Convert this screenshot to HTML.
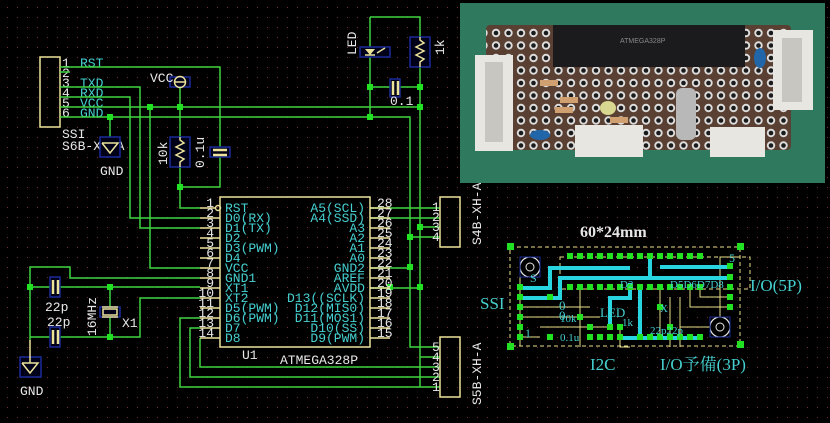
<!DOCTYPE html>
<html><head><meta charset="utf-8"><style>
html,body{margin:0;padding:0;background:#000;}
svg{display:block}
.m{font-family:"Liberation Mono","DejaVu Sans Mono",monospace;font-size:13px}
.c{fill:#46d0d0}.w{fill:#e8e8e8}
.g{stroke:#3fd43f;stroke-width:1.5;fill:none}
.y{stroke:#ece39a;stroke-width:1.5;fill:none}
.b{stroke:#1a2a9a;stroke-width:1.5;fill:#000018}
</style></head><body>
<svg width="830" height="423" viewBox="0 0 830 423" xmlns="http://www.w3.org/2000/svg">
<defs>
<pattern id="dots" x="0" y="0" width="10" height="10" patternUnits="userSpaceOnUse"><rect x="7" y="7" width="1" height="1" fill="#7a2a2a"/></pattern>
<pattern id="holes" x="490" y="27" width="12.5" height="12.5" patternUnits="userSpaceOnUse"><circle cx="6" cy="6" r="4.2" fill="#ddd"/><circle cx="6" cy="6" r="2.3" fill="#1a1a1a"/></pattern>
</defs>
<rect width="830" height="423" fill="#000"/>
<rect width="830" height="423" fill="url(#dots)"/>

<!-- SSI connector -->
<rect x="40" y="57" width="20" height="70" class="y"/>
<g class="m w" font-size="13"><text x="62" y="67">1</text><text x="62" y="77">2</text><text x="62" y="87">3</text><text x="62" y="97">4</text><text x="62" y="107">5</text><text x="62" y="117">6</text></g>
<g class="m c" font-size="13"><text x="80" y="67">RST</text><text x="80" y="87">TXD</text><text x="80" y="97">RXD</text><text x="80" y="107">VCC</text><text x="80" y="117">GND</text></g>
<text x="62" y="138" class="m w" font-size="13">SSI</text>
<text x="62" y="150" class="m w" font-size="13">S6B-XH-A</text>

<g class="g">
<polyline points="60,67 220,67 220,187 180,187"/>
<polyline points="60,72 70,72"/>
<polyline points="60,87 140,87 140,228 200,228"/>
<polyline points="60,97 130,97 130,218 200,218"/>
<polyline points="60,107 420,107 420,387"/>
<polyline points="60,117 410,117 410,347 440,347"/>
<polyline points="110,117 110,140"/>
<polyline points="150,107 150,268 200,268"/>
<polyline points="180,88 180,208 200,208"/>
<polyline points="370,17 420,17 420,107"/>
<polyline points="370,17 370,117"/>
<polyline points="370,87 420,87"/>
<polyline points="370,208 440,208"/><polyline points="370,218 440,218"/>
<polyline points="420,227 440,227"/><polyline points="410,237 440,237"/>
<polyline points="370,268 410,268"/><polyline points="370,288 420,288"/>
<polyline points="420,357 440,357"/>
<polyline points="200,278 70,278 70,267 30,267 30,340"/>
<polyline points="30,287 200,287"/>
<polyline points="30,337 140,337 140,298 200,298"/>
<polyline points="110,287 110,337"/>
<polyline points="200,318 180,318 180,387 440,387"/>
<polyline points="200,328 190,328 190,377 440,377"/>
<polyline points="200,338 200,367 440,367"/>
</g>
<g fill="#22e022">
<rect x="107" y="114" width="6" height="6"/><rect x="147" y="104" width="6" height="6"/><rect x="177" y="104" width="6" height="6"/>
<rect x="177" y="184" width="6" height="6"/><rect x="367" y="84" width="6" height="6"/><rect x="417" y="84" width="6" height="6"/>
<rect x="417" y="104" width="6" height="6"/><rect x="367" y="114" width="6" height="6"/>
<rect x="417" y="224" width="6" height="6"/><rect x="407" y="234" width="6" height="6"/><rect x="407" y="264" width="6" height="6"/>
<rect x="417" y="284" width="6" height="6"/><rect x="387" y="284" width="6" height="6"/>
<rect x="27" y="284" width="6" height="6"/><rect x="107" y="284" width="6" height="6"/><rect x="107" y="334" width="6" height="6"/>
</g>

<rect x="100" y="137" width="20" height="20" class="b"/>
<polyline points="102,143 118,143 110,153 102,143" class="y"/>
<text x="100" y="175" class="m w" font-size="13">GND</text>
<rect x="20" y="357" width="21" height="20" class="b"/>
<polyline points="22,363 38,363 30,373 22,363" class="y"/><line x1="30" y1="340" x2="30" y2="363" class="y"/>
<text x="20" y="205" class="m w" font-size="13" transform="translate(0,190)">GND</text>

<rect x="170" y="77" width="20" height="10" class="b"/>
<circle cx="180" cy="82" r="5.5" class="y"/><line x1="174" y1="82" x2="186" y2="82" class="y"/>
<text x="150" y="82" class="m w" font-size="13">VCC</text>
<rect x="170" y="137" width="20" height="30" class="b"/>
<polyline points="180,137 180,140 184,143 176,147 184,151 176,155 184,159 180,162 180,167" class="y"/>
<text transform="translate(167,165) rotate(-90)" class="m w" font-size="13">10k</text>
<rect x="210" y="147" width="20" height="10" class="b"/>
<line x1="213" y1="150" x2="227" y2="150" stroke="#ece39a" stroke-width="2.5"/><line x1="213" y1="155" x2="227" y2="155" stroke="#ece39a" stroke-width="2.5"/>
<text transform="translate(204,168) rotate(-90)" class="m w" font-size="13">0.1u</text>

<rect x="360" y="47" width="30" height="10" class="b"/>
<polygon points="365,49 375,49 370,55" fill="#ece39a"/><line x1="365" y1="55" x2="375" y2="55" class="y"/>
<line x1="377" y1="53" x2="385" y2="48" class="y"/>
<text transform="translate(356,55) rotate(-90)" class="m w" font-size="13">LED</text>
<rect x="410" y="37" width="20" height="30" class="b"/>
<polyline points="420,37 420,40 424,43 416,47 424,51 416,55 424,59 420,62 420,67" class="y"/>
<text transform="translate(444,55) rotate(-90)" class="m w" font-size="13">1k</text>
<rect x="390" y="79" width="10" height="18" class="b"/>
<line x1="393" y1="81" x2="393" y2="95" stroke="#ece39a" stroke-width="2.5"/><line x1="398" y1="81" x2="398" y2="95" stroke="#ece39a" stroke-width="2.5"/>
<text x="390" y="105" class="m w" font-size="13">0.1</text>

<rect x="50" y="277" width="10" height="20" class="b"/>
<line x1="53" y1="280" x2="53" y2="294" stroke="#ece39a" stroke-width="2.5"/><line x1="58" y1="280" x2="58" y2="294" stroke="#ece39a" stroke-width="2.5"/>
<rect x="50" y="327" width="10" height="20" class="b"/>
<line x1="53" y1="330" x2="53" y2="344" stroke="#ece39a" stroke-width="2.5"/><line x1="58" y1="330" x2="58" y2="344" stroke="#ece39a" stroke-width="2.5"/>
<text x="45" y="311" class="m w" font-size="13">22p</text>
<text x="47" y="326" class="m w" font-size="13">22p</text>
<rect x="100" y="307" width="20" height="10" class="b"/>
<rect x="103" y="309" width="14" height="6" class="y"/>
<line x1="102" y1="307" x2="118" y2="307" class="y"/><line x1="102" y1="317" x2="118" y2="317" class="y"/>
<text transform="translate(96,336) rotate(-90)" class="m w" font-size="13">16MHz</text>
<text x="122" y="327" class="m w" font-size="13">X1</text>

<rect x="220" y="197" width="150" height="150" class="y"/>
<g class="y">
<line x1="200" y1="208" x2="216" y2="208"/><circle cx="218" cy="208" r="2.5"/>
<line x1="200" y1="218" x2="220" y2="218"/><line x1="200" y1="228" x2="220" y2="228"/><line x1="200" y1="238" x2="220" y2="238"/>
<line x1="200" y1="248" x2="220" y2="248"/><line x1="200" y1="258" x2="220" y2="258"/><line x1="200" y1="268" x2="220" y2="268"/>
<line x1="200" y1="278" x2="220" y2="278"/><line x1="200" y1="288" x2="220" y2="288"/><line x1="200" y1="298" x2="220" y2="298"/>
<line x1="200" y1="308" x2="220" y2="308"/><line x1="200" y1="318" x2="220" y2="318"/><line x1="200" y1="328" x2="220" y2="328"/>
<line x1="200" y1="338" x2="220" y2="338"/>
<line x1="370" y1="208" x2="390" y2="208"/><line x1="370" y1="218" x2="390" y2="218"/><line x1="370" y1="228" x2="390" y2="228"/>
<line x1="370" y1="238" x2="390" y2="238"/><line x1="370" y1="248" x2="390" y2="248"/><line x1="370" y1="258" x2="390" y2="258"/>
<line x1="370" y1="268" x2="390" y2="268"/><line x1="370" y1="278" x2="390" y2="278"/><line x1="370" y1="288" x2="390" y2="288"/>
<line x1="370" y1="298" x2="390" y2="298"/><line x1="370" y1="308" x2="390" y2="308"/><line x1="370" y1="318" x2="390" y2="318"/>
<line x1="370" y1="328" x2="390" y2="328"/><line x1="370" y1="338" x2="390" y2="338"/>
</g>
<g class="m w" font-size="13" text-anchor="end">
<text x="214" y="207">1</text><text x="214" y="217">2</text><text x="214" y="227">3</text><text x="214" y="237">4</text><text x="214" y="247">5</text><text x="214" y="257">6</text><text x="214" y="267">7</text><text x="214" y="277">8</text><text x="214" y="287">9</text><text x="214" y="297">10</text><text x="214" y="307">11</text><text x="214" y="317">12</text><text x="214" y="327">13</text><text x="214" y="337">14</text>
</g>
<g class="m w" font-size="13">
<text x="377" y="207">28</text><text x="377" y="217">27</text><text x="377" y="227">26</text><text x="377" y="237">25</text><text x="377" y="247">24</text><text x="377" y="257">23</text><text x="377" y="267">22</text><text x="377" y="277">21</text><text x="377" y="287">20</text><text x="377" y="297">19</text><text x="377" y="307">18</text><text x="377" y="317">17</text><text x="377" y="327">16</text><text x="377" y="337">15</text>
</g>
<g class="m c" font-size="13">
<text x="225" y="212">RST</text><text x="225" y="222">D0(RX)</text><text x="225" y="232">D1(TX)</text><text x="225" y="242">D2</text><text x="225" y="252">D3(PWM)</text><text x="225" y="262">D4</text><text x="225" y="272">VCC</text><text x="225" y="282">GND1</text><text x="225" y="292">XT1</text><text x="225" y="302">XT2</text><text x="225" y="312">D5(PWM)</text><text x="225" y="322">D6(PWM)</text><text x="225" y="332">D7</text><text x="225" y="342">D8</text>
</g>
<g class="m c" font-size="13" text-anchor="end">
<text x="365" y="212">A5(SCL)</text><text x="365" y="222">A4(SSD)</text><text x="365" y="232">A3</text><text x="365" y="242">A2</text><text x="365" y="252">A1</text><text x="365" y="262">A0</text><text x="365" y="272">GND2</text><text x="365" y="282">AREF</text><text x="365" y="292">AVDD</text><text x="365" y="302">D13((SCLK)</text><text x="365" y="312">D12(MIS0)</text><text x="365" y="322">D11(MOS1)</text><text x="365" y="332">D10(SS)</text><text x="365" y="342">D9(PWM)</text>
</g>
<text x="242" y="359" class="m w" font-size="13">U1</text>
<text x="280" y="364" class="m w" font-size="13">ATMEGA328P</text>

<rect x="440" y="197" width="20" height="50" class="y"/>
<g class="m w" font-size="13"><text x="432" y="211">1</text><text x="432" y="221">2</text><text x="432" y="231">3</text><text x="432" y="241">4</text></g>
<text transform="translate(481,245) rotate(-90)" class="m w" font-size="13">S4B-XH-A</text>
<rect x="440" y="337" width="20" height="60" class="y"/>
<g class="m w" font-size="13"><text x="432" y="351">5</text><text x="432" y="361">4</text><text x="432" y="371">3</text><text x="432" y="381">2</text><text x="432" y="391">1</text></g>
<text transform="translate(481,405) rotate(-90)" class="m w" font-size="13">S5B-XH-A</text>

<!-- photo -->
<rect x="460" y="3" width="365" height="180" fill="#2f7a5e"/>
<rect x="486" y="25" width="305" height="125" rx="4" fill="#5a4032"/>
<rect x="486" y="25" width="305" height="125" fill="url(#holes)"/>
<rect x="553" y="25" width="192" height="42" fill="#1b1b1d"/>
<text x="620" y="43" font-family="Liberation Sans,sans-serif" font-size="7" fill="#888">ATMEGA328P</text>
<rect x="475" y="55" width="38" height="96" fill="#e8e6e0"/><rect x="485" y="62" width="18" height="80" fill="#c8c6c0"/>
<rect x="773" y="30" width="40" height="80" fill="#e8e6e0"/><rect x="782" y="38" width="20" height="64" fill="#c8c6c0"/>
<rect x="575" y="125" width="68" height="32" fill="#e8e6e0"/>
<rect x="710" y="127" width="55" height="30" fill="#e8e6e0"/>
<rect x="676" y="88" width="20" height="52" rx="6" fill="#b8b8b8"/>
<ellipse cx="608" cy="108" rx="8" ry="7" fill="#d8d890"/>
<ellipse cx="540" cy="135" rx="10" ry="5" fill="#2266aa"/><ellipse cx="760" cy="58" rx="6" ry="10" fill="#2266aa"/>
<rect x="540" y="80" width="18" height="6" fill="#d0a070"/><rect x="560" y="97" width="18" height="6" fill="#d0a070"/><rect x="555" y="107" width="18" height="6" fill="#d0a070"/><rect x="610" y="117" width="18" height="6" fill="#d0a070"/>

<!-- PCB layout -->
<text x="580" y="237" font-family="Liberation Serif,serif" font-weight="bold" font-size="16" fill="#e8e8e8">60*24mm</text>
<rect x="510" y="247" width="230" height="99" fill="none" stroke="#e8e08a" stroke-width="1" stroke-dasharray="4,3"/>
<rect x="560" y="257" width="190" height="32" fill="none" stroke="#e8e08a" stroke-width="1" stroke-dasharray="4,3"/>
<g stroke="#e8e08a" stroke-width="1" fill="none">
<polyline points="520,277 520,346"/><polyline points="520,337 540,337"/><polyline points="580,287 580,347"/>
<polyline points="740,257 720,257 720,330"/><polyline points="620,327 620,347 630,347"/><polyline points="680,297 680,327 720,327"/>
<polyline points="690,287 690,307 730,307"/><polyline points="700,287 700,297 730,297"/>
<polyline points="660,287 660,337"/><polyline points="670,297 670,347"/>
<polyline points="520,317 600,317"/><polyline points="520,307 590,307"/><polyline points="540,327 610,327"/>
<polyline points="620,337 640,337"/><polyline points="680,317 680,347"/>
</g>
<g stroke="#28d4e0" stroke-width="4" fill="none">
<polyline points="520,288 550,288 550,268 630,268"/>
<polyline points="520,298 560,298 560,278 730,278"/>
<polyline points="650,257 650,278"/>
<polyline points="660,267 730,267"/>
<polyline points="640,288 640,338"/>
<polyline points="620,338 700,338"/>
<polyline points="610,328 610,298 630,298 630,283"/>
</g>
<circle cx="530" cy="267" r="10" fill="#000" stroke="#e8e8e8" stroke-width="1.2"/><circle cx="530" cy="267" r="4" fill="none" stroke="#e8e8e8"/>
<rect x="520" y="257" width="20" height="20" fill="none" stroke="#1a2a9a"/>
<circle cx="720" cy="327" r="10" fill="#000" stroke="#e8e8e8" stroke-width="1.2"/><circle cx="720" cy="327" r="4" fill="none" stroke="#e8e8e8"/>
<rect x="710" y="317" width="20" height="20" fill="none" stroke="#1a2a9a"/>
<g fill="#22e022">
<rect x="507" y="243" width="7" height="7"/><rect x="737" y="243" width="7" height="7"/><rect x="507" y="343" width="7" height="7"/><rect x="737" y="341" width="7" height="7"/>
<rect x="567" y="253" width="6" height="6"/><rect x="577" y="253" width="6" height="6"/><rect x="587" y="253" width="6" height="6"/><rect x="597" y="253" width="6" height="6"/><rect x="607" y="253" width="6" height="6"/><rect x="617" y="253" width="6" height="6"/><rect x="627" y="253" width="6" height="6"/><rect x="637" y="253" width="6" height="6"/><rect x="647" y="253" width="6" height="6"/><rect x="657" y="253" width="6" height="6"/><rect x="667" y="253" width="6" height="6"/><rect x="677" y="253" width="6" height="6"/><rect x="687" y="253" width="6" height="6"/><rect x="697" y="253" width="6" height="6"/>
<rect x="567" y="284" width="6" height="6"/><rect x="577" y="284" width="6" height="6"/><rect x="587" y="284" width="6" height="6"/><rect x="597" y="284" width="6" height="6"/><rect x="607" y="284" width="6" height="6"/><rect x="617" y="284" width="6" height="6"/><rect x="627" y="284" width="6" height="6"/><rect x="637" y="284" width="6" height="6"/><rect x="647" y="284" width="6" height="6"/><rect x="657" y="284" width="6" height="6"/><rect x="667" y="284" width="6" height="6"/><rect x="677" y="284" width="6" height="6"/><rect x="687" y="284" width="6" height="6"/><rect x="697" y="284" width="6" height="6"/>
<rect x="517" y="284" width="6" height="6"/><rect x="517" y="294" width="6" height="6"/><rect x="517" y="304" width="6" height="6"/><rect x="517" y="314" width="6" height="6"/><rect x="517" y="324" width="6" height="6"/><rect x="517" y="334" width="6" height="6"/>
<rect x="727" y="263" width="6" height="6"/><rect x="727" y="274" width="6" height="6"/><rect x="727" y="284" width="6" height="6"/><rect x="727" y="294" width="6" height="6"/><rect x="727" y="304" width="6" height="6"/>
<rect x="547" y="294" width="6" height="6"/><rect x="547" y="334" width="6" height="6"/><rect x="577" y="314" width="6" height="6"/><rect x="587" y="324" width="6" height="6"/><rect x="607" y="324" width="6" height="6"/><rect x="617" y="334" width="6" height="6"/>
<rect x="587" y="334" width="6" height="6"/><rect x="597" y="334" width="6" height="6"/><rect x="607" y="334" width="6" height="6"/><rect x="637" y="334" width="6" height="6"/><rect x="647" y="334" width="6" height="6"/><rect x="657" y="334" width="6" height="6"/><rect x="667" y="334" width="6" height="6"/><rect x="677" y="334" width="6" height="6"/><rect x="687" y="334" width="6" height="6"/><rect x="697" y="334" width="6" height="6"/>
<rect x="617" y="324" width="6" height="6"/><rect x="657" y="304" width="6" height="6"/><rect x="667" y="324" width="6" height="6"/>
</g>
<g font-family="Liberation Serif,serif" font-size="13" fill="#46d0d0">
<text x="560" y="322" font-size="11">10k</text><text x="559" y="310">0</text><text x="559" y="320">0</text>
<text x="560" y="341" font-size="11">0.1u</text><text x="600" y="317">LED</text><text x="622" y="326" font-size="11">1k</text>
<text x="650" y="334" font-size="11">22p22p</text><text x="660" y="312" font-size="11">X</text>
<text x="530" y="282" font-size="12">S</text><text x="525" y="337" font-size="12">1</text><text x="729" y="262" font-size="12">5</text>
<text x="670" y="288" font-size="11">D5D6D7D8</text><text x="620" y="288" font-size="11">D2</text>
</g>
<g font-family="Liberation Serif,serif" font-size="17" fill="#46d0d0">
<text x="480" y="309">SSI</text>
<text x="750" y="291">I/O(5P)</text>
<text x="590" y="370">I2C</text>
<text x="660" y="370" font-family="Liberation Serif,'Noto Serif CJK SC',serif">I/O予備(3P)</text>
</g>
</svg>
</body></html>
